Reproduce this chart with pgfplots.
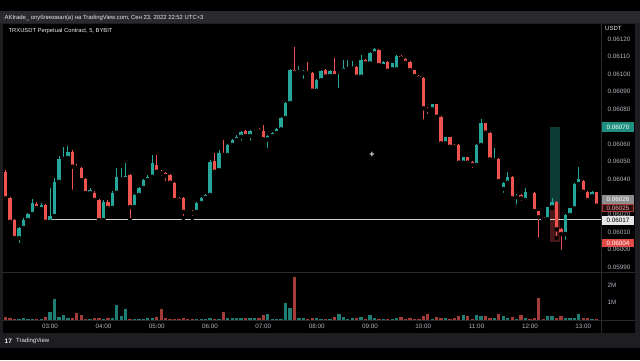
\documentclass[border=0pt]{standalone}
\usepackage{pgfplots}
\pgfplotsset{compat=1.18}
\usepackage{pgfplotstable}
\usepackage{fontspec}
\setmainfont{Liberation Sans}
\definecolor{bull}{HTML}{26A69A}
\definecolor{bear}{HTML}{EF5350}
\definecolor{vbull}{HTML}{1F7D74}
\definecolor{vbear}{HTML}{A33B38}
\definecolor{ticktext}{HTML}{B2B5BE}
\definecolor{framegray}{HTML}{1E1E22}
\definecolor{headgray}{HTML}{2A2A2E}
\definecolor{sepline}{HTML}{2A2A2A}
\definecolor{tealbox}{HTML}{0E3A35}
\definecolor{redbox}{HTML}{4A1818}
\definecolor{lvline}{HTML}{CFCFCF}
\definecolor{labgreen}{HTML}{1E8F80}
\definecolor{labgray}{HTML}{8E8E8E}
\definecolor{labdark}{HTML}{2A1010}
\definecolor{labborder}{HTML}{B03A36}
\definecolor{labpink}{HTML}{F0A8A4}
\definecolor{labwhite}{HTML}{E6E6E6}
\definecolor{labred}{HTML}{E04B47}

% i open high low close volume(M)
\pgfplotstableread{
i o h l c v
-7 0.060065 0.060128 0.060026 0.060123 0.05
-6 0.060123 0.060180 0.060111 0.060168 0.08
-5 0.060168 0.060208 0.060157 0.060202 0.04
-4 0.060202 0.060288 0.060197 0.060265 0.05
-2 0.060231 0.060265 0.060219 0.060254 0.03
0 0.060158 0.060351 0.060154 0.060191 0.43
1 0.060191 0.060408 0.060185 0.060386 1.18
2 0.060386 0.060533 0.060379 0.060516 0.14
3 0.060516 0.060586 0.060510 0.060529 0.29
4 0.060522 0.060590 0.060516 0.060557 0.06
9 0.060322 0.060351 0.060311 0.060339 0.04
12 0.060168 0.060282 0.060162 0.060272 0.04
14 0.060237 0.060333 0.060225 0.060324 0.08
15 0.060324 0.060465 0.060316 0.060413 0.88
16 0.060402 0.060465 0.060396 0.060413 0.20
17 0.060402 0.060495 0.060396 0.060419 0.63
19 0.060242 0.060316 0.060231 0.060311 0.04
20 0.060311 0.060356 0.060305 0.060351 0.05
21 0.060351 0.060402 0.060345 0.060396 0.04
22 0.060396 0.060425 0.060390 0.060415 0.06
23 0.060415 0.060539 0.060408 0.060493 0.08
33 0.060214 0.060271 0.060208 0.060265 0.04
34 0.060265 0.060299 0.060259 0.060295 0.05
35 0.060294 0.060316 0.060288 0.060311 0.04
36 0.060311 0.060510 0.060305 0.060500 0.06
38 0.060453 0.060567 0.060447 0.060548 0.05
40 0.060539 0.060601 0.060533 0.060596 0.10
41 0.060596 0.060630 0.060590 0.060624 0.10
42 0.060624 0.060653 0.060619 0.060643 0.10
43 0.060643 0.060676 0.060609 0.060672 0.10
45 0.060647 0.060681 0.060609 0.060676 0.06
46 0.060672 0.060687 0.060670 0.060681 0.06
49 0.060628 0.060653 0.060567 0.060647 0.33
50 0.060647 0.060670 0.060641 0.060664 0.04
51 0.060664 0.060693 0.060658 0.060685 0.04
52 0.060685 0.060755 0.060681 0.060750 0.05
53 0.060750 0.060841 0.060744 0.060835 0.98
54 0.060835 0.061029 0.060829 0.061023 0.69
56 0.061012 0.061046 0.061006 0.061019 0.10
57 0.061006 0.061023 0.060961 0.061018 0.10
60 0.060905 0.060972 0.060901 0.060966 0.06
61 0.060966 0.061023 0.060961 0.061019 0.05
63 0.060989 0.061023 0.060983 0.061019 0.04
65 0.061012 0.061023 0.060909 0.061019 0.35
66 0.061019 0.061080 0.061018 0.061035 0.14
67 0.061029 0.061080 0.061023 0.061039 0.05
68 0.061031 0.061076 0.061026 0.061039 0.08
70 0.060985 0.061109 0.060981 0.061080 0.15
72 0.061061 0.061126 0.061057 0.061122 0.29
73 0.061118 0.061149 0.061114 0.061141 0.06
75 0.061046 0.061075 0.061040 0.061071 0.04
77 0.061027 0.061066 0.061023 0.061061 0.05
78 0.061027 0.061109 0.061023 0.061103 0.06
86 0.060799 0.060832 0.060795 0.060829 0.05
89 0.060605 0.060644 0.060601 0.060640 0.06
93 0.060495 0.060530 0.060490 0.060526 0.25
96 0.060482 0.060599 0.060476 0.060596 0.29
97 0.060596 0.060742 0.060590 0.060719 0.20
100 0.060510 0.060579 0.060507 0.060520 0.06
102 0.060345 0.060385 0.060311 0.060381 0.20
103 0.060381 0.060442 0.060376 0.060415 0.06
105 0.060298 0.060314 0.060244 0.060311 0.05
107 0.060282 0.060349 0.060279 0.060329 0.06
112 0.060172 0.060245 0.060168 0.060241 0.18
113 0.060241 0.060292 0.060237 0.060269 0.18
116 0.060088 0.060202 0.060044 0.060197 0.06
117 0.060197 0.060239 0.060191 0.060235 0.10
118 0.060235 0.060379 0.060231 0.060373 0.06
119 0.060373 0.060473 0.060368 0.060402 0.35
122 0.060305 0.060331 0.060299 0.060325 0.05
}\greentab

\pgfplotstableread{
i o h l c v
-10 0.060442 0.060453 0.060282 0.060292 0.14
-9 0.060292 0.060299 0.060140 0.060158 0.06
-8 0.060168 0.060174 0.060054 0.060065 0.04
-3 0.060259 0.060271 0.060225 0.060237 0.04
-1 0.060254 0.060259 0.060151 0.060158 0.14
5 0.060557 0.060567 0.060329 0.060472 0.10
6 0.060472 0.060487 0.060453 0.060465 0.39
7 0.060465 0.060470 0.060390 0.060396 0.25
8 0.060402 0.060408 0.060316 0.060322 0.05
10 0.060322 0.060333 0.060271 0.060282 0.08
11 0.060282 0.060288 0.060157 0.060168 0.10
13 0.060272 0.060282 0.060231 0.060237 0.06
18 0.060425 0.060430 0.060168 0.060242 0.05
24 0.060482 0.060539 0.060442 0.060443 0.14
25 0.060443 0.060453 0.060408 0.060434 0.63
26 0.060436 0.060442 0.060379 0.060419 0.06
27 0.060425 0.060430 0.060373 0.060381 0.04
28 0.060381 0.060385 0.060276 0.060282 0.05
29 0.060294 0.060299 0.060276 0.060282 0.03
30 0.060294 0.060299 0.060180 0.060215 0.10
31 0.060219 0.060225 0.060208 0.060212 0.04
32 0.060219 0.060225 0.060180 0.060208 0.04
37 0.060504 0.060550 0.060442 0.060443 0.04
39 0.060548 0.060624 0.060533 0.060539 0.45
44 0.060676 0.060681 0.060641 0.060647 0.10
47 0.060685 0.060693 0.060670 0.060676 0.10
48 0.060677 0.060710 0.060624 0.060628 0.25
55 0.061023 0.061152 0.061000 0.061008 2.51
58 0.061018 0.061071 0.061000 0.061006 0.05
59 0.061008 0.061012 0.060904 0.060905 0.06
62 0.061023 0.061029 0.060983 0.060986 0.04
64 0.061019 0.061090 0.060983 0.060989 0.16
69 0.061042 0.061046 0.060983 0.060985 0.06
71 0.061080 0.061086 0.061057 0.061061 0.04
74 0.061137 0.061143 0.061046 0.061052 0.05
76 0.061071 0.061075 0.061018 0.061019 0.04
79 0.061103 0.061109 0.061086 0.061090 0.14
80 0.061084 0.061089 0.061060 0.061065 0.05
81 0.061071 0.061075 0.061018 0.061023 0.06
82 0.061023 0.061026 0.060983 0.060989 0.04
83 0.060989 0.060992 0.060972 0.060976 0.05
84 0.060978 0.060981 0.060729 0.060805 0.20
85 0.060805 0.060810 0.060761 0.060795 0.33
87 0.060829 0.060832 0.060752 0.060757 0.14
88 0.060757 0.060761 0.060601 0.060605 0.06
90 0.060640 0.060644 0.060581 0.060586 0.05
91 0.060596 0.060599 0.060579 0.060583 0.06
92 0.060596 0.060599 0.060490 0.060495 0.20
94 0.060526 0.060530 0.060490 0.060495 0.20
95 0.060500 0.060504 0.060453 0.060482 0.05
98 0.060719 0.060724 0.060661 0.060666 0.20
99 0.060666 0.060670 0.060510 0.060514 0.06
101 0.060514 0.060519 0.060385 0.060390 0.35
104 0.060415 0.060419 0.060288 0.060292 0.14
106 0.060311 0.060314 0.060265 0.060292 0.24
108 0.060329 0.060333 0.060316 0.060320 0.05
109 0.060320 0.060325 0.060217 0.060219 0.06
110 0.060219 0.060222 0.060058 0.060184 1.24
111 0.060184 0.060188 0.060168 0.060172 0.05
114 0.060269 0.060274 0.060065 0.060115 0.06
115 0.060115 0.060120 0.059987 0.060088 0.20
120 0.060392 0.060396 0.060325 0.060329 0.08
121 0.060329 0.060333 0.060276 0.060282 0.06
123 0.060325 0.060328 0.060248 0.060250 0.04
}\redtab

% wick: from low up to high; body: from min(open,close) up to max(open,close)
\newcommand\candles[2]{%
  \addplot[only marks, mark=none, forget plot,
    error bars/.cd, y dir=plus, y explicit, error mark=none,
    error bar style={draw=#2, line width=0.8pt}]
    table[x=i, y=l, y error plus expr={\thisrow{h}-\thisrow{l}}]{#1};
  \addplot[only marks, mark=none, forget plot,
    error bars/.cd, y dir=plus, y explicit, error mark=none,
    error bar style={draw=#2, line width=3.3pt}]
    table[x=i, y expr={min(\thisrow{o},\thisrow{c})},
          y error plus expr={abs(\thisrow{o}-\thisrow{c})}]{#1};
}

\begin{document}
\begin{tikzpicture}[x=1pt,y=-1pt]
% frames
\fill[black] (0,0) rectangle (640,360);
\fill[framegray] (0,10.7) rectangle (640,348);
\fill[headgray] (0,10.7) rectangle (640,23.3);
\fill[black] (3,23.5) rectangle (635,333);

% price pane
\begin{axis}[
  at={(3pt,-272pt)}, anchor=south west,
  scale only axis, width=598pt, height=248.5pt,
  xmin=-10.6, xmax=124,
  ymin=0.0598717, ymax=0.0612884,
  axis line style={draw=none},
  major tick length=0pt,
  xtick=\empty,
  ytick={0.0599,0.06,0.0601,0.0602,0.0604,0.0605,0.0606,0.0607,0.0608,0.0609,0.061,0.0611,0.0612},
  yticklabel pos=right,
  scaled y ticks=false,
  /pgf/number format/assume math mode=true,
  y tick label style={/pgf/number format/fixed,/pgf/number format/fixed zerofill,/pgf/number format/precision=5,
     anchor=west, xshift=3pt, font=\fontsize{6.3}{7}\selectfont, text=ticktext},
]
\fill[tealbox] (axis cs:112.5,0.06026) rectangle (axis cs:114.75,0.06070);
\fill[redbox] (axis cs:112.5,0.06004) rectangle (axis cs:114.75,0.06026);
\addplot[lvline, line width=0.9pt, forget plot] coordinates {(0,0.06017) (124,0.06017)};
\candles{\greentab}{bull}
\candles{\redtab}{bear}
\end{axis}

% volume pane
\begin{axis}[
  at={(3pt,-319.5pt)}, anchor=south west,
  scale only axis, width=598pt, height=47pt,
  xmin=-10.6, xmax=124,
  ymin=0, ymax=2.765,
  axis line style={draw=none},
  major tick length=0pt,
  ytick={1,2}, yticklabels={1M,2M},
  yticklabel pos=right,
  xtick={0,12,...,120},
  xticklabels={03:00,04:00,05:00,06:00,07:00,08:00,09:00,10:00,11:00,12:00,13:00},
  /pgf/number format/assume math mode=true,
  y tick label style={anchor=west, xshift=3pt, font=\fontsize{6.3}{7}\selectfont, text=ticktext},
  x tick label style={yshift=-1.5pt, font=\fontsize{6.3}{7}\selectfont, text=ticktext},
]
\addplot[ycomb, draw=vbull, line width=3.3pt] table[x=i, y=v]{\greentab};
\addplot[ycomb, draw=vbear, line width=3.3pt] table[x=i, y=v]{\redtab};
\end{axis}

% separators
\draw[sepline, line width=0.6pt] (3,272.3) -- (635,272.3);
\draw[sepline, line width=0.6pt] (3,319.8) -- (635,319.8);
\draw[sepline, line width=0.6pt] (601.5,23.5) -- (601.5,333);

% header texts
\node[anchor=west, inner sep=0pt, text=white!80!gray, font=\fontsize{5.9}{7}\selectfont] at (4.5,17.5)
  {AKtrade\_ опубликовал(а) на TradingView.com, Сен 23, 2022 22:52 UTC+3};
\node[anchor=west, inner sep=0pt, text=white!85!gray, font=\fontsize{5.8}{7}\selectfont] at (8.5,31)
  {TRXUSDT Perpetual Contract, 5, BYBIT};
\node[anchor=west, inner sep=0pt, text=white!85!gray, font=\fontsize{6.0}{7}\selectfont] at (605,28.5) {USDT};

% price labels on the scale
\fill[labgreen] (602,122.2) rectangle (634,131.5);
\node[inner sep=0pt, text=white, font=\fontsize{6.3}{7}\selectfont] at (618,126.9) {0.06070};
\fill[labgray] (602,194.8) rectangle (634,203.6);
\node[inner sep=0pt, text=white, font=\fontsize{6.3}{7}\selectfont] at (618,199.3) {0.06026};
\filldraw[fill=labdark, draw=labborder, line width=0.5pt] (602.3,204.2) rectangle (633.7,211.6);
\node[inner sep=0pt, text=labpink, font=\fontsize{6.3}{7}\selectfont] at (618,207.9) {0.06025};
\fill[labwhite] (602,215.6) rectangle (634,224.6);
\node[inner sep=0pt, text=black, font=\fontsize{6.3}{7}\selectfont] at (618,220.1) {0.06017};
\fill[labred] (602,238.6) rectangle (634,247.4);
\node[inner sep=0pt, text=white, font=\fontsize{6.3}{7}\selectfont] at (618,243) {0.06004};

% cursor
\node[inner sep=0pt, text=white!85!gray, font=\bfseries\fontsize{9}{9}\selectfont] at (372,155) {+};

% bottom bar
\node[anchor=west, inner sep=0pt, text=white!85!gray, font=\bfseries\fontsize{6.5}{7}\selectfont] at (4.5,340.8) {17};
\node[anchor=west, inner sep=0pt, text=white!85!gray, font=\fontsize{6.0}{7}\selectfont] at (16,340.8) {TradingView};
\end{tikzpicture}
\end{document}
